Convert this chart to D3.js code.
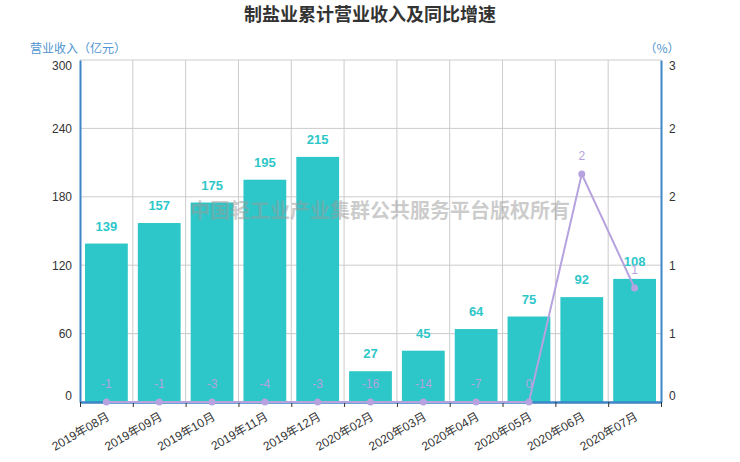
<!DOCTYPE html>
<html>
<head>
<meta charset="utf-8">
<script src="https://cdn.jsdelivr.net/npm/d3@7"></script>
<style>
  body { margin: 0; background: #fff; }
  text { font-family: "Liberation Sans", Arial, "Noto Sans CJK SC", sans-serif; }
</style>
</head>
<body>
<div id="chart"></div>
<script>
const months = ['2019年08月', '2019年09月', '2019年10月', '2019年11月', '2019年12月',
  '2020年02月', '2020年03月', '2020年04月', '2020年05月', '2020年06月', '2020年07月'];
const revenue = [139, 157, 175, 195, 215, 27, 45, 64, 75, 92, 108];
const growth = [-1, -1, -3, -4, -3, -16, -14, -7, 0, 2, 1];
const leftTicks = [0, 60, 120, 180, 240, 300];
const rightTicks = [0, 0.6, 1.2, 1.8, 2.4, 3];

let width = 740, height = 462;
let plot = {left: 80, right: 661, top: 60, bottom: 402};

let svg = d3.select('#chart').append('svg')
  .attr('width', width)
  .attr('height', height)

let xScale = d3.scaleBand()
  .domain(months)
  .range([plot.left, plot.right])
  .paddingInner(0.19)
  .paddingOuter(0.095)

// boundaries between categories
let xEdge = d3.scaleLinear()
  .domain([0, months.length])
  .range([plot.left, plot.right])

let yLeft = d3.scaleLinear()
  .domain([0, 300])
  .range([plot.bottom, plot.top])

let yRight = d3.scaleLinear()
  .domain([0, 3])
  .range([plot.bottom, plot.top])
  .clamp(true)

// title
svg.append('text')
  .attr('x', 370).attr('y', 21)
  .attr('text-anchor', 'middle')
  .style('font-size', '18px').style('font-weight', 'bold')
  .style('font-family', '"Noto Sans CJK SC", sans-serif')
  .attr('fill', '#333')
  .text('制盐业累计营业收入及同比增速')

// axis names
svg.append('text')
  .attr('x', 78).attr('y', 53)
  .attr('text-anchor', 'middle')
  .style('font-size', '12px')
  .style('font-family', '"Noto Sans CJK SC", sans-serif')
  .attr('fill', '#4f95d0')
  .text('营业收入（亿元）')
svg.append('text')
  .attr('x', 662).attr('y', 53)
  .attr('text-anchor', 'middle')
  .style('font-size', '12px')
  .style('font-family', '"Noto Sans CJK SC", sans-serif')
  .attr('fill', '#4f95d0')
  .text('（%）')

// grid
svg.append('g')
  .selectAll('line')
  .data(leftTicks.slice(1))
  .enter().append('line')
  .attr('x1', plot.left).attr('x2', plot.right)
  .attr('y1', d => yLeft(d)).attr('y2', d => yLeft(d))
  .attr('stroke', '#ccc')
svg.append('g')
  .selectAll('line')
  .data(d3.range(1, months.length))
  .enter().append('line')
  .attr('x1', d => xEdge(d)).attr('x2', d => xEdge(d))
  .attr('y1', plot.top).attr('y2', plot.bottom)
  .attr('stroke', '#ccc')

// bars
svg.append('g')
  .selectAll('rect')
  .data(revenue)
  .enter().append('rect')
  .attr('x', (d, i) => xScale(months[i]))
  .attr('width', xScale.bandwidth())
  .attr('y', d => yLeft(d))
  .attr('height', d => plot.bottom - yLeft(d))
  .attr('fill', '#2ec7c9')

// watermark
svg.append('text')
  .attr('x', 380).attr('y', 218)
  .attr('text-anchor', 'middle')
  .style('font-size', '20px').style('font-weight', 'bold')
  .style('font-family', '"Noto Sans CJK SC", sans-serif')
  .attr('fill', '#999').attr('fill-opacity', 0.5)
  .text('中国轻工业产业集群公共服务平台版权所有')

// bar labels
svg.append('g')
  .selectAll('text')
  .data(revenue)
  .enter().append('text')
  .attr('x', (d, i) => xScale(months[i]) + xScale.bandwidth() / 2)
  .attr('y', d => yLeft(d) - 13)
  .attr('text-anchor', 'middle')
  .style('font-size', '13px').style('font-weight', 'bold')
  .attr('fill', '#2ec7c9')
  .text(d => d)

// axes
let axisColor = '#3d85c6'

let leftAxis = svg.append('g')
  .attr('transform', `translate(${plot.left},0)`)
  .call(d3.axisLeft(yLeft).tickValues(leftTicks).tickSize(0).tickPadding(8))
leftAxis.select('.domain').attr('stroke', axisColor).attr('stroke-width', 2)

let rightAxis = svg.append('g')
  .attr('transform', `translate(${plot.right},0)`)
  .call(d3.axisRight(yRight).tickValues(rightTicks).tickFormat(d3.format('.0f')).tickSize(0).tickPadding(8))
rightAxis.select('.domain').attr('stroke', axisColor).attr('stroke-width', 2)

;[leftAxis, rightAxis].forEach(ax => {
  ax.selectAll('text')
    .style('font-size', '12px')
    .attr('fill', '#333')
  // end labels are pulled inside
  ax.selectAll('.tick').filter((d, i) => i === 0).select('text').attr('dy', '-0.2em')
  ax.selectAll('.tick').filter((d, i) => i === 5).select('text').attr('dy', '0.75em')
})

// x tick marks at the category edges
let edgeAxis = svg.append('g')
  .attr('transform', `translate(0,${plot.bottom})`)
  .call(d3.axisBottom(xEdge).tickValues(d3.range(months.length + 1)).tickFormat('').tickSize(5).tickSizeOuter(0))
edgeAxis.select('.domain').attr('stroke', axisColor).attr('stroke-width', 2.5)
edgeAxis.selectAll('.tick line').attr('stroke', '#333')

// x labels
let xAxis = svg.append('g')
  .attr('transform', `translate(0,${plot.bottom})`)
  .call(d3.axisBottom(xScale).tickSize(0).tickPadding(0))
xAxis.select('.domain').remove()
xAxis.selectAll('text')
  .style('font-size', '12px')
  .attr('fill', '#333')
  .attr('text-anchor', 'end')
  .attr('dy', 0)
  .attr('transform', 'translate(4,17) rotate(-30)')

// line (drawn over the axes, negatives sit on the floor)
let cx = (d, i) => xScale(months[i]) + xScale.bandwidth() / 2
let line = d3.line()
  .x(cx)
  .y(d => yRight(d))
svg.append('path')
  .datum(growth)
  .attr('d', line)
  .attr('fill', 'none')
  .attr('stroke', '#b6a2de')
  .attr('stroke-width', 2)

svg.append('g')
  .selectAll('circle')
  .data(growth)
  .enter().append('circle')
  .attr('cx', cx)
  .attr('cy', d => yRight(d))
  .attr('r', 3.5)
  .attr('fill', '#b6a2de')

svg.append('g')
  .selectAll('text')
  .data(growth)
  .enter().append('text')
  .attr('x', cx)
  .attr('y', d => yRight(d) - 14)
  .attr('text-anchor', 'middle')
  .style('font-size', '12px')
  .attr('fill', '#b6a2de')
  .text(d => d)
</script>
</body>
</html>
